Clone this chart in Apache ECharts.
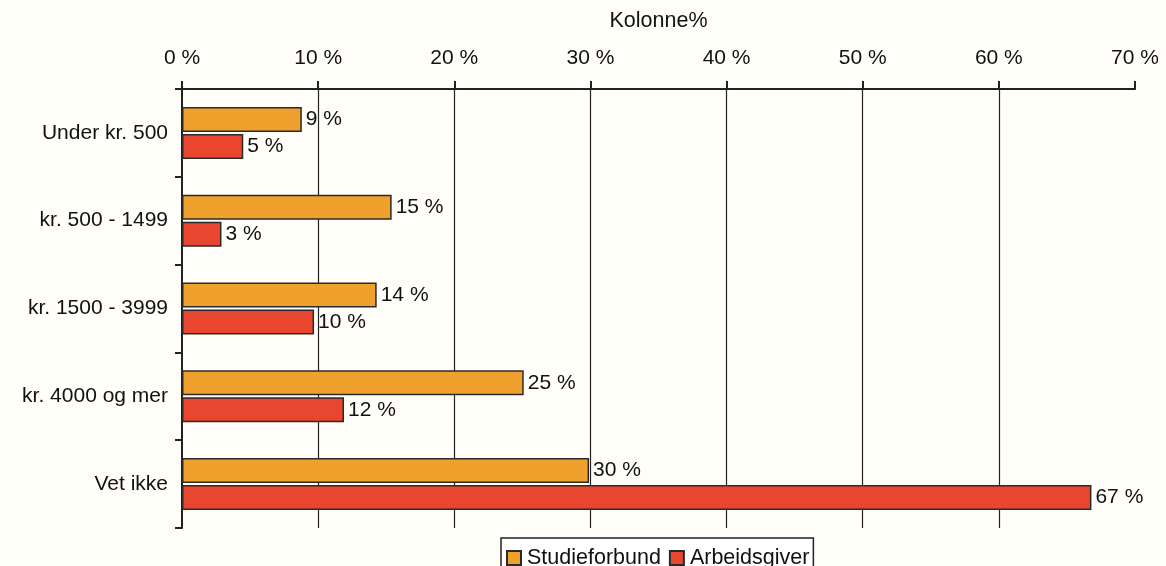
<!DOCTYPE html>
<html>
<head>
<meta charset="utf-8">
<script src="https://cdn.jsdelivr.net/npm/echarts@6/dist/echarts.min.js"></script>
<style>
html,body{margin:0;padding:0;background:#fffef9;}
#c{width:1166px;height:566px;}
</style>
</head>
<body>
<div id="c"></div>
<script>
const categories = ['Under kr. 500', 'kr. 500 - 1499', 'kr. 1500 - 3999', 'kr. 4000 og mer', 'Vet ikke'];
const studieforbund = [8.8, 15.4, 14.3, 25.1, 29.9];
const arbeidsgiver = [4.5, 2.9, 9.7, 11.9, 66.8];
const seriesNames = ['Studieforbund', 'Arbeidsgiver'];
const axisTitle = 'Kolonne%';

const font = 'Liberation Sans, Arial, sans-serif';
const chart = echarts.init(document.getElementById('c'));
const labelCfg = {
  show: true, position: 'right', distance: 4,
  fontFamily: font, fontSize: 21, color: '#111',
  formatter: p => Math.round(p.value) + ' %'
};
chart.setOption({
  backgroundColor: '#fffef9',
  animation: false,
  grid: { left: 182, right: 31, top: 89, bottom: 38 },
  xAxis: {
    type: 'value', position: 'top', min: 0, max: 70, interval: 10,
    name: axisTitle, nameLocation: 'middle', nameGap: 57,
    nameTextStyle: { fontFamily: font, fontSize: 21.5, color: '#111' },
    axisLine: { show: true, lineStyle: { color: '#222', width: 2 } },
    axisTick: { show: true, length: 8, lineStyle: { color: '#222', width: 2 } },
    axisLabel: { formatter: '{value} %', fontFamily: font, fontSize: 21, color: '#111', margin: 20 },
    splitLine: { show: true, showMinLine: false, showMaxLine: false, lineStyle: { color: '#222', width: 1.2 } }
  },
  yAxis: {
    type: 'category', data: categories, inverse: true,
    axisLine: { show: true, lineStyle: { color: '#222', width: 2 } },
    axisTick: { show: true, length: 7, lineStyle: { color: '#222', width: 2 } },
    axisLabel: { fontFamily: font, fontSize: 21, color: '#111', margin: 14 }
  },
  legend: {
    top: 538, left: 501,
    data: seriesNames,
    icon: 'rect',
    itemWidth: 14, itemHeight: 14, itemGap: 8,
    padding: [9, 4, 12, 5],
    borderColor: '#222', borderWidth: 1.5, backgroundColor: '#fff',
    textStyle: { fontFamily: font, fontSize: 21.5, color: '#111', padding: [0, 0, 0, 1] }
  },
  series: [
    {
      name: seriesNames[0], type: 'bar', data: studieforbund,
      barWidth: 25, barGap: '8%',
      itemStyle: { color: '#F0A02C', borderColor: '#2a2a2a', borderWidth: 1.5 },
      label: labelCfg
    },
    {
      name: seriesNames[1], type: 'bar', data: arbeidsgiver,
      barWidth: 25, barGap: '8%',
      itemStyle: { color: '#E8462E', borderColor: '#2a2a2a', borderWidth: 1.5 },
      label: labelCfg
    }
  ]
});
</script>
</body>
</html>
